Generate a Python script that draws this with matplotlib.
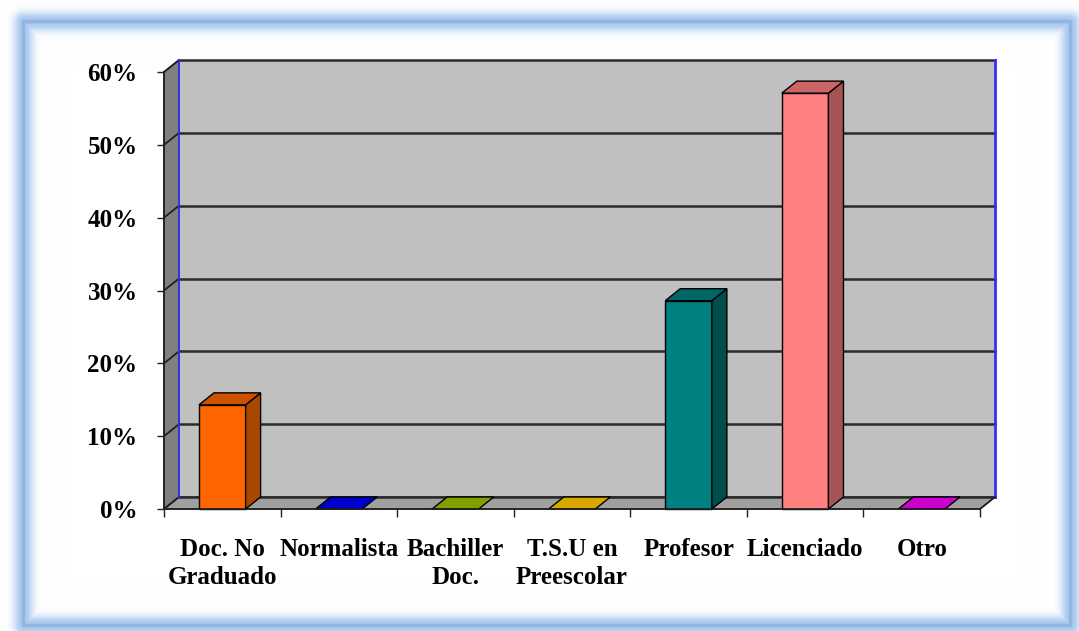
import numpy as np
import matplotlib
matplotlib.use("Agg")
import matplotlib.pyplot as plt
from matplotlib.patches import Polygon, Rectangle

# Distribution of teachers by academic level
categorias = ["Doc. No\nGraduado", "Normalista", "Bachiller\nDoc.", "T.S.U en\nPreescolar",
              "Profesor", "Licenciado", "Otro"]
porcentajes = [14.3, 0.0, 0.0, 0.0, 28.6, 57.1, 0.0]
y_ticks = [0, 10, 20, 30, 40, 50, 60]

# (front, top, side) shades for every bar
colores = [
    ("#FF6600", "#CC5200", "#A84700"),
    ("#0000CC", "#0000CC", "#000099"),
    ("#80A000", "#80A000", "#5A7000"),
    ("#D9A800", "#D9A800", "#A07C00"),
    ("#008080", "#006666", "#004D4D"),
    ("#FF8080", "#CC6666", "#A65353"),
    ("#CC00CC", "#CC00CC", "#990099"),
]

W, H = 1079, 631
fig = plt.figure(figsize=(W / 100, H / 100), dpi=100)
fig.patch.set_facecolor("white")

# ---- glowing blue frame around the chart area ----
yy, xx = np.mgrid[0:H, 0:W].astype(float)
L, R, T, B = 23.0, 1070.0, 21.0, 625.0
inside = (xx >= L) & (xx <= R) & (yy >= T) & (yy <= B)
d_in = np.minimum.reduce([xx - L, R - xx, yy - T, B - yy])
ox = np.maximum.reduce([L - xx, np.zeros_like(xx), xx - R])
oy = np.maximum.reduce([T - yy, np.zeros_like(yy), yy - B])
d_out = np.hypot(ox, oy)
d = np.where(inside, d_in, d_out)
glow = np.clip(1.15 * np.exp(-(d / 9.5) ** 2.2), 0, 1)
core = np.clip(1.0 - np.abs(d - 0.5) / 2.2, 0, 1)
band = np.array([0.68, 0.80, 0.94])
line = np.array([0.55, 0.69, 0.87])
img = np.ones((H, W, 3))
img = img * (1 - glow[..., None]) + band * glow[..., None]
img = img * (1 - core[..., None]) + line * core[..., None]
bg = fig.add_axes([0, 0, 1, 1])
bg.imshow(img, extent=(0, W, H, 0), aspect="auto", interpolation="bilinear")
bg.axis("off")

# ---- main axes: front plane of the 3-D box ----
n = len(categorias)
ax = fig.add_axes([164 / W, (H - 509) / H, (980 - 164) / W, (509 - 72) / H])
ax.set_xlim(0, n)
ax.set_ylim(0, 60)
ax.patch.set_alpha(0)

dx = 15 / ((980 - 164) / n)   # depth offset in category units
dy = 12 / ((509 - 72) / 60)   # depth offset in percent units

# back wall, side wall, floor
ax.add_patch(Polygon([(dx, dy), (n + dx, dy), (n + dx, 60 + dy), (dx, 60 + dy)],
                     closed=True, facecolor="#C0C0C0", edgecolor="none", zorder=0, clip_on=False))
ax.add_patch(Polygon([(0, 0), (dx, dy), (dx, 60 + dy), (0, 60)],
                     closed=True, facecolor="#808080", edgecolor="#202020", lw=1.0, zorder=0.5, clip_on=False))
ax.add_patch(Polygon([(0, 0), (n, 0), (n + dx, dy), (dx, dy)],
                     closed=True, facecolor="#A0A0A0", edgecolor="#202020", lw=1.0, zorder=0.5, clip_on=False))

# gridlines on back and side walls
for t in y_ticks:
    ax.plot([dx, n + dx], [t + dy, t + dy], color="#2A2A2A", lw=1.8, zorder=1, clip_on=False)
    ax.plot([0, dx], [t, t + dy], color="#202020", lw=1.3, zorder=1, clip_on=False)

# blue wall borders
ax.plot([dx, dx], [dy, 60 + dy], color="#3030FF", lw=1.3, zorder=1.2, clip_on=False)
ax.plot([n + dx, n + dx], [dy, 60 + dy], color="#3030FF", lw=2.0, zorder=1.2, clip_on=False)
ax.plot([n, n + dx], [0, dy], color="#202020", lw=1.2, zorder=1.2, clip_on=False)

# bars
bw = 0.40
for i, (v, (cf, ct, cs)) in enumerate(zip(porcentajes, colores)):
    x0 = i + 0.5 - bw / 2
    x1 = x0 + bw
    ek = dict(edgecolor="black", lw=1.0, clip_on=False, zorder=3, joinstyle="miter")
    if v > 0:
        ax.add_patch(Rectangle((x0, 0), bw, v, facecolor=cf, **ek))
        ax.add_patch(Polygon([(x1, 0), (x1 + dx, dy), (x1 + dx, v + dy), (x1, v)],
                             closed=True, facecolor=cs, **ek))
    ax.add_patch(Polygon([(x0, v), (x1, v), (x1 + dx, v + dy), (x0 + dx, v + dy)],
                         closed=True, facecolor=ct, **ek))

# axes, ticks and labels
for s in ("top", "right"):
    ax.spines[s].set_visible(False)
for s in ("left", "bottom"):
    ax.spines[s].set_color("#202020")
    ax.spines[s].set_linewidth(1.2)
    ax.spines[s].set_zorder(4)

font = dict(family="Liberation Serif", weight="bold")
ax.set_yticks(y_ticks)
ax.set_yticklabels([f"{t}%" for t in y_ticks], fontsize=18, **font)
ax.set_xticks(range(n + 1))
ax.set_xticklabels([])
ax.set_xticks([i + 0.5 for i in range(n)], minor=True)
ax.set_xticklabels(categorias, minor=True, fontsize=18, linespacing=1.28, **font)
ax.tick_params(axis="y", length=5, width=1.0, color="#202020", pad=14)
ax.tick_params(axis="x", which="major", length=6, width=1.0, color="#202020")
ax.tick_params(axis="x", which="minor", length=0, pad=21)

fig.savefig("out.png", dpi=100, facecolor="white")
